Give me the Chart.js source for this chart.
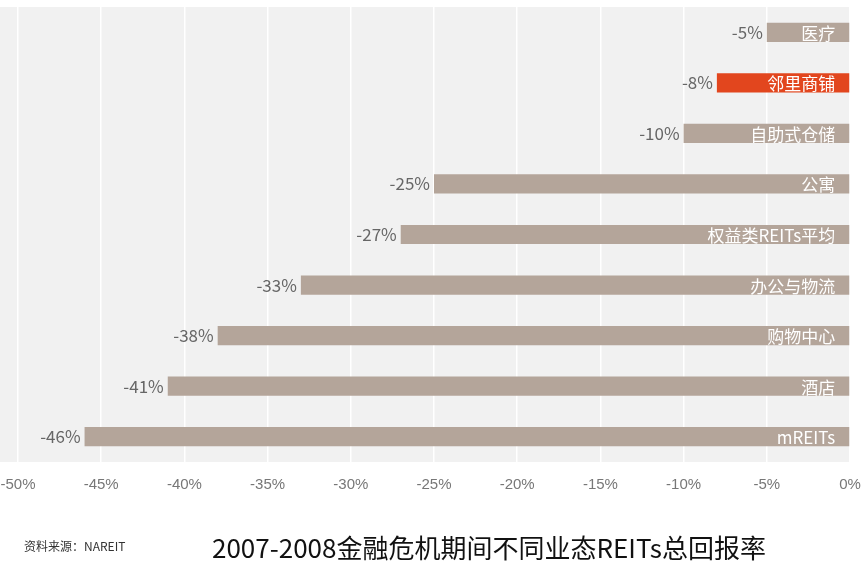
<!DOCTYPE html>
<html><head><meta charset="utf-8">
<script src="https://cdn.jsdelivr.net/npm/chart.js@4"></script>
<style>body{margin:0;background:#fff}#wrap{width:867px;height:570px}</style>
</head><body><div id="wrap"><canvas id="c"></canvas></div>
<script>
// 数据
const categories = ["医疗", "邻里商铺", "自助式仓储", "公寓", "权益类REITs平均", "办公与物流", "购物中心", "酒店", "mREITs"];
const returns = [-5, -8, -10, -25, -27, -33, -38, -41, -46];
const highlight = "邻里商铺";
const xTicks = [-50, -45, -40, -35, -30, -25, -20, -15, -10, -5, 0];

const barColors = categories.map(c => c === highlight ? "#e2461e" : "#b4a59a");

// 背景和文字
const decor = {
    id: "decor",
    beforeDraw(chart) {
        const { ctx, chartArea: a } = chart;
        ctx.save();
        ctx.fillStyle = "#f1f1f1";
        ctx.fillRect(0, a.top, a.right, a.bottom - a.top);
        ctx.restore();
    },
    afterDatasetsDraw(chart) {
        const ctx = chart.ctx;
        const meta = chart.getDatasetMeta(0);
        ctx.save();
        ctx.font = "17px 'Noto Sans CJK SC'";
        ctx.textBaseline = "middle";
        meta.data.forEach((bar, i) => {
            ctx.fillStyle = "#666";
            ctx.textAlign = "right";
            ctx.fillText(returns[i] + "%", bar.x - 4, bar.y);
            ctx.fillStyle = "#fff";
            ctx.fillText(categories[i], bar.base - 14, bar.y + 1);
        });
        ctx.textAlign = "left";
        ctx.fillStyle = "#333";
        ctx.font = "12px 'Noto Sans CJK SC'";
        ctx.fillText("资料来源：NAREIT", 24, 546);
        ctx.fillStyle = "#111";
        ctx.font = "26px 'Noto Sans CJK SC'";
        ctx.fillText("2007-2008金融危机期间不同业态REITs总回报率", 212, 548);
        ctx.restore();
    }
};

new Chart(document.getElementById("c"), {
    type: "bar",
    data: {
        labels: categories,
        datasets: [{ data: returns, backgroundColor: barColors, barPercentage: 0.38, categoryPercentage: 1 }]
    },
    options: {
        indexAxis: "y",
        responsive: true,
        maintainAspectRatio: false,
        animation: false,
        layout: { padding: { left: 18, right: 17, top: 7, bottom: 62 } },
        plugins: { legend: { display: false }, tooltip: { enabled: false } },
        scales: {
            x: {
                min: -50, max: 0,
                afterBuildTicks: s => { s.ticks = xTicks.map(v => ({ value: v })); },
                afterFit: s => { s.paddingLeft = 0; s.paddingRight = 0; },
                grid: { color: "#fff", lineWidth: 1.5, drawTicks: false },
                border: { display: false },
                ticks: { callback: v => v + "%", color: "#777", font: { size: 15 }, padding: 14 }
            },
            y: { display: false }
        }
    },
    plugins: [decor]
});
</script></body></html>
